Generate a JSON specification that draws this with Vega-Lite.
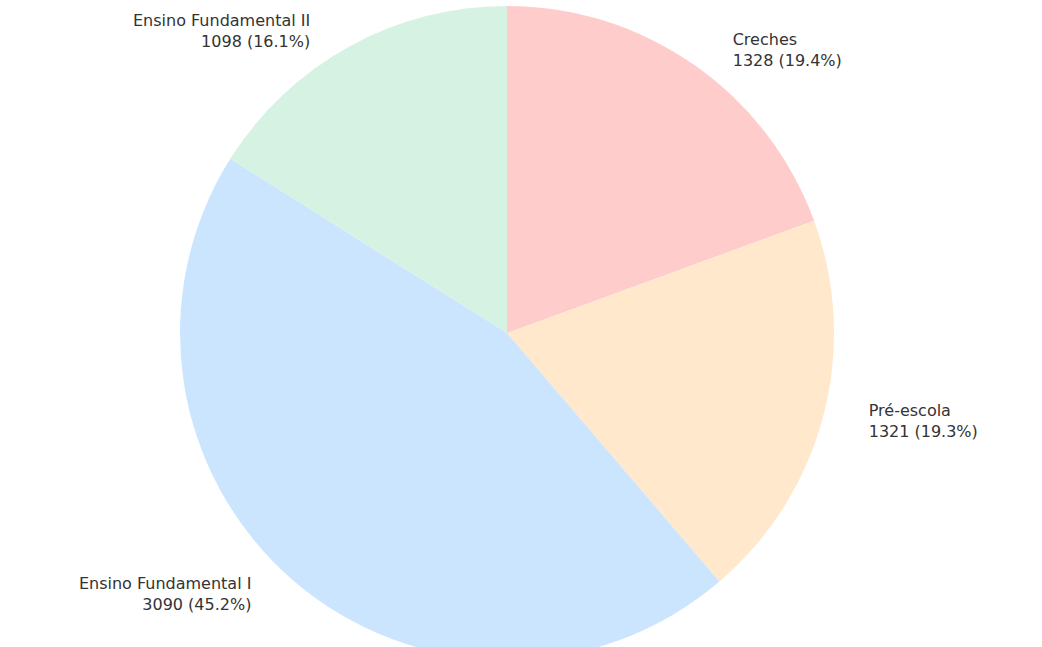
{
  "$schema": "https://vega.github.io/schema/vega-lite/v6.json",
  "width": 1014,
  "height": 666,
  "autosize": {"type": "none"},
  "padding": 0,
  "background": "white",
  "view": {"stroke": null},
  "data": {
    "values": [
      {"category": "Creches", "value": 1328, "pct": 19.4, "order": 1},
      {"category": "Pré-escola", "value": 1321, "pct": 19.3, "order": 2},
      {"category": "Ensino Fundamental I", "value": 3090, "pct": 45.2, "order": 3},
      {"category": "Ensino Fundamental II", "value": 1098, "pct": 16.1, "order": 4}
    ]
  },
  "transform": [
    {"calculate": "datum.category + '\\n' + datum.value + ' (' + format(datum.pct, '.1f') + '%)'", "as": "label"}
  ],
  "encoding": {
    "theta": {"field": "value", "type": "quantitative", "stack": true},
    "order": {"field": "order", "type": "quantitative", "sort": "ascending"}
  },
  "layer": [
    {
      "mark": {"type": "arc", "radius": 327, "stroke": null},
      "encoding": {
        "color": {
          "field": "category",
          "type": "nominal",
          "scale": {
            "domain": ["Creches", "Pré-escola", "Ensino Fundamental I", "Ensino Fundamental II"],
            "range": ["#ffcccc", "#ffe8cc", "#cce5ff", "#d5f2e3"]
          },
          "legend": null
        }
      }
    },
    {
      "mark": {
        "type": "text",
        "radius": 345,
        "font": "DejaVu Sans",
        "fontSize": 16,
        "lineHeight": 21,
        "lineBreak": "\n",
        "baseline": "middle",
        "color": "#333333",
        "align": {"expr": "datum.order <= 2 ? 'left' : 'right'"},
        "dx": {"expr": "datum.order <= 2 ? 28 : -30"},
        "dy": -10
      },
      "encoding": {
        "text": {"field": "label", "type": "nominal"}
      }
    }
  ]
}
